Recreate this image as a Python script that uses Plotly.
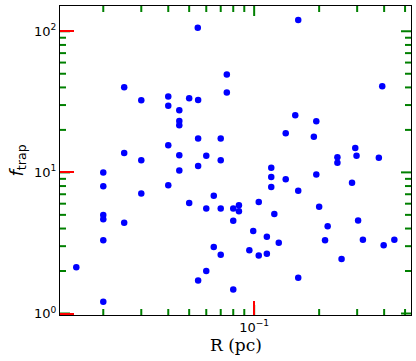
import plotly.graph_objects as go

# Data
R_pc = [
    0.0548, 0.0747, 0.0747, 0.025, 0.030, 0.040, 0.040, 0.050, 0.055, 0.045,
    0.045, 0.045, 0.055, 0.070, 0.040, 0.025, 0.030, 0.045, 0.060, 0.070,
    0.055, 0.160, 0.392, 0.155, 0.194, 0.140, 0.189, 0.294, 0.243, 0.243,
    0.298, 0.378, 0.120, 0.020, 0.020, 0.030, 0.040, 0.045, 0.050, 0.065,
    0.060, 0.070, 0.080, 0.080, 0.020, 0.020, 0.025, 0.020, 0.065, 0.070,
    0.015, 0.060, 0.055, 0.080, 0.020, 0.120, 0.120, 0.140, 0.160, 0.194,
    0.284, 0.200, 0.219, 0.303, 0.213, 0.319, 0.398, 0.446, 0.254, 0.160,
    0.085, 0.085, 0.105, 0.124, 0.099, 0.1145, 0.130, 0.095, 0.105, 0.1145,
]
f_trap = [
    106.0, 49.3, 36.8, 40.1, 32.4, 34.5, 29.7, 33.5, 32.6, 27.6,
    23.1, 21.6, 17.4, 17.4, 15.6, 13.7, 12.2, 13.2, 13.1, 12.2,
    11.1, 120.0, 40.7, 25.4, 23.0, 18.9, 17.9, 14.9, 12.8, 11.7,
    13.1, 12.7, 10.8, 10.0, 7.99, 7.09, 8.12, 10.3, 6.08, 6.82,
    5.55, 5.55, 5.55, 4.54, 4.98, 4.66, 4.39, 3.31, 2.96, 2.61,
    2.13, 2.00, 1.71, 1.48, 1.21, 9.29, 7.89, 8.95, 7.40, 9.67,
    8.43, 5.70, 4.16, 4.57, 3.30, 3.33, 3.04, 3.33, 2.43, 1.79,
    5.86, 5.31, 6.18, 5.08, 3.84, 3.50, 3.17, 2.81, 2.58, 2.65,
]

x_tick_vals = [0.1]
x_tick_text = ["10<sup>\u22121</sup>"]
y_tick_vals = [1, 10, 100]
y_tick_text = ["10<sup>0</sup>", "10<sup>1</sup>", "10<sup>2</sup>"]
minor_mults = [2, 3, 4, 5, 6, 7, 8, 9]

x_range = [-1.8994, -0.2735]   # log10 units
y_range = [-0.0106, 2.179]
W, H = 416, 361
M = dict(l=60, r=5, t=6, b=46)
FONT = dict(family="DejaVu Sans", size=13, color="black")

x_lo, x_hi = 10 ** x_range[0], 10 ** x_range[1]
y_lo, y_hi = 10 ** y_range[0], 10 ** y_range[1]
x_minor = [m * d for d in (0.01, 0.1) for m in minor_mults if x_lo < m * d < x_hi]
y_minor = [m * d for d in (1, 10, 100) for m in minor_mults if y_lo < m * d < y_hi]

dec_per_px_x = (x_range[1] - x_range[0]) / (W - M["l"] - M["r"])
dec_per_px_y = (y_range[1] - y_range[0]) / (H - M["t"] - M["b"])

tx, ty = [], []
for vals, length in ((x_tick_vals, 10), (x_minor, 6)):
    f = 10 ** (length * dec_per_px_y)
    for v in vals:
        tx += [v, v, None, v, v, None]
        ty += [y_lo, y_lo * f, None, y_hi, y_hi / f, None]
for vals, length in ((y_tick_vals, 10), (y_minor, 6)):
    f = 10 ** (length * dec_per_px_x)
    for v in vals:
        tx += [x_lo, x_lo * f, None, x_hi, x_hi / f, None]
        ty += [v, v, None, v, v, None]

fig = go.Figure()
fig.add_trace(go.Scatter(x=tx, y=ty, mode="lines", line=dict(color="green", width=2),
                         hoverinfo="skip", showlegend=False))
fig.add_trace(go.Scatter(
    x=R_pc, y=f_trap, mode="markers",
    marker=dict(color="#0000ff", size=6.5),
    showlegend=False,
))

common = dict(type="log", showgrid=False, zeroline=False,
              ticks="inside", ticklen=14, tickwidth=2, tickcolor="red",
              tickmode="array", tickfont=FONT,
              showline=True, linecolor="black", linewidth=1, mirror=True)

fig.update_layout(
    width=W, height=H, margin=M,
    plot_bgcolor="white", paper_bgcolor="white",
    xaxis=dict(**common, range=x_range, tickvals=x_tick_vals, ticktext=x_tick_text),
    yaxis=dict(**common, range=y_range, tickvals=y_tick_vals, ticktext=y_tick_text),
    annotations=[
        dict(text="R (pc)", xref="paper", yref="paper", x=0.5, y=-0.097,
             xanchor="center", yanchor="middle", showarrow=False,
             font=dict(family="DejaVu Serif", size=17, color="black")),
        dict(text="<i>f</i><sub>trap</sub>", xref="paper", yref="paper", x=-0.1225, y=0.5,
             xanchor="center", yanchor="middle", showarrow=False, textangle=-90,
             font=dict(family="DejaVu Sans", size=18, color="black")),
    ],
)

fig.write_html("out.html", post_script="document.body.style.margin='0';",
               config={"displayModeBar": False})
